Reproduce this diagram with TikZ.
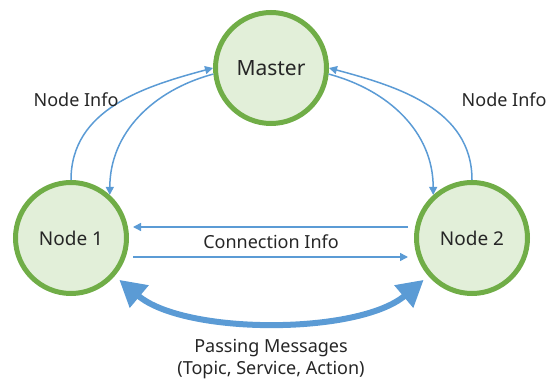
\documentclass[tikz,border=0pt]{standalone}
\usepackage{fontspec}
\setmainfont{Noto Sans}
\usepackage{xcolor}
\usepackage{tikz}
\usetikzlibrary{arrows.meta, positioning, calc}
\definecolor{rosgreen}{RGB}{112, 173, 71}
\definecolor{rosfill}{RGB}{226, 239, 217}
\definecolor{rosblue}{RGB}{91, 155, 213}
\definecolor{rostext}{RGB}{38, 38, 38}
\tikzset{
    rosnode/.style={circle, draw=rosgreen, fill=rosfill, line width=5pt, minimum size=111pt, inner sep=0pt, text=rostext},
    infoline/.style={rosblue, line width=1.5pt, -{Triangle[length=8pt, width=8pt]}},
    msgline/.style={rosblue, line width=6pt, {Triangle[length=26pt, width=28pt]}-{Triangle[length=26pt, width=28pt]}},
    lbl/.style={text=rostext, font=\fontsize{18}{22}\selectfont, align=center}
}

\begin{document}
\begin{tikzpicture}[x=1pt, y=-1pt]
    \useasboundingbox (0,0) rectangle (552,379);
    \node[rosnode, font=\fontsize{21}{24}\selectfont] (master) at (271,68) {Master};
    \node[rosnode, font=\fontsize{19}{22}\selectfont] (node1) at (71,238) {Node 1};
    \node[rosnode, font=\fontsize{19}{22}\selectfont] (node2) at (472,238) {Node 2};
    % node info
    \draw[infoline] (node1.90) to[out=90, in=195] (master.180);
    \draw[infoline] (master.186) to[out=195, in=90] (node1.48);
    \draw[infoline] (node2.90) to[out=90, in=-15] (master.0);
    \draw[infoline] (master.-6) to[out=-15, in=90] (node2.132);
    \node[lbl] (info1) at (76,100) {Node Info};
    \node[lbl, anchor=east] (info2) at (550,100) {Node Info};
    % connection info
    \draw[infoline] ([xshift=-6pt, yshift=11pt]node2.west) -- ([xshift=4pt, yshift=11pt]node1.east);
    \draw[infoline] ([xshift=4pt, yshift=-19pt]node1.east) -- ([xshift=-6pt, yshift=-19pt]node2.west);
    \node[lbl] (conn) at (271,242) {Connection Info};
    % messages
    \draw[msgline, shorten <=6pt, shorten >=6pt] (node1.-41) to[out=-40, in=220, looseness=0.75] (node2.221);
    \node[lbl] (msg) at (271,359) {Passing Messages\\(Topic, Service, Action)};
\end{tikzpicture}
\end{document}
